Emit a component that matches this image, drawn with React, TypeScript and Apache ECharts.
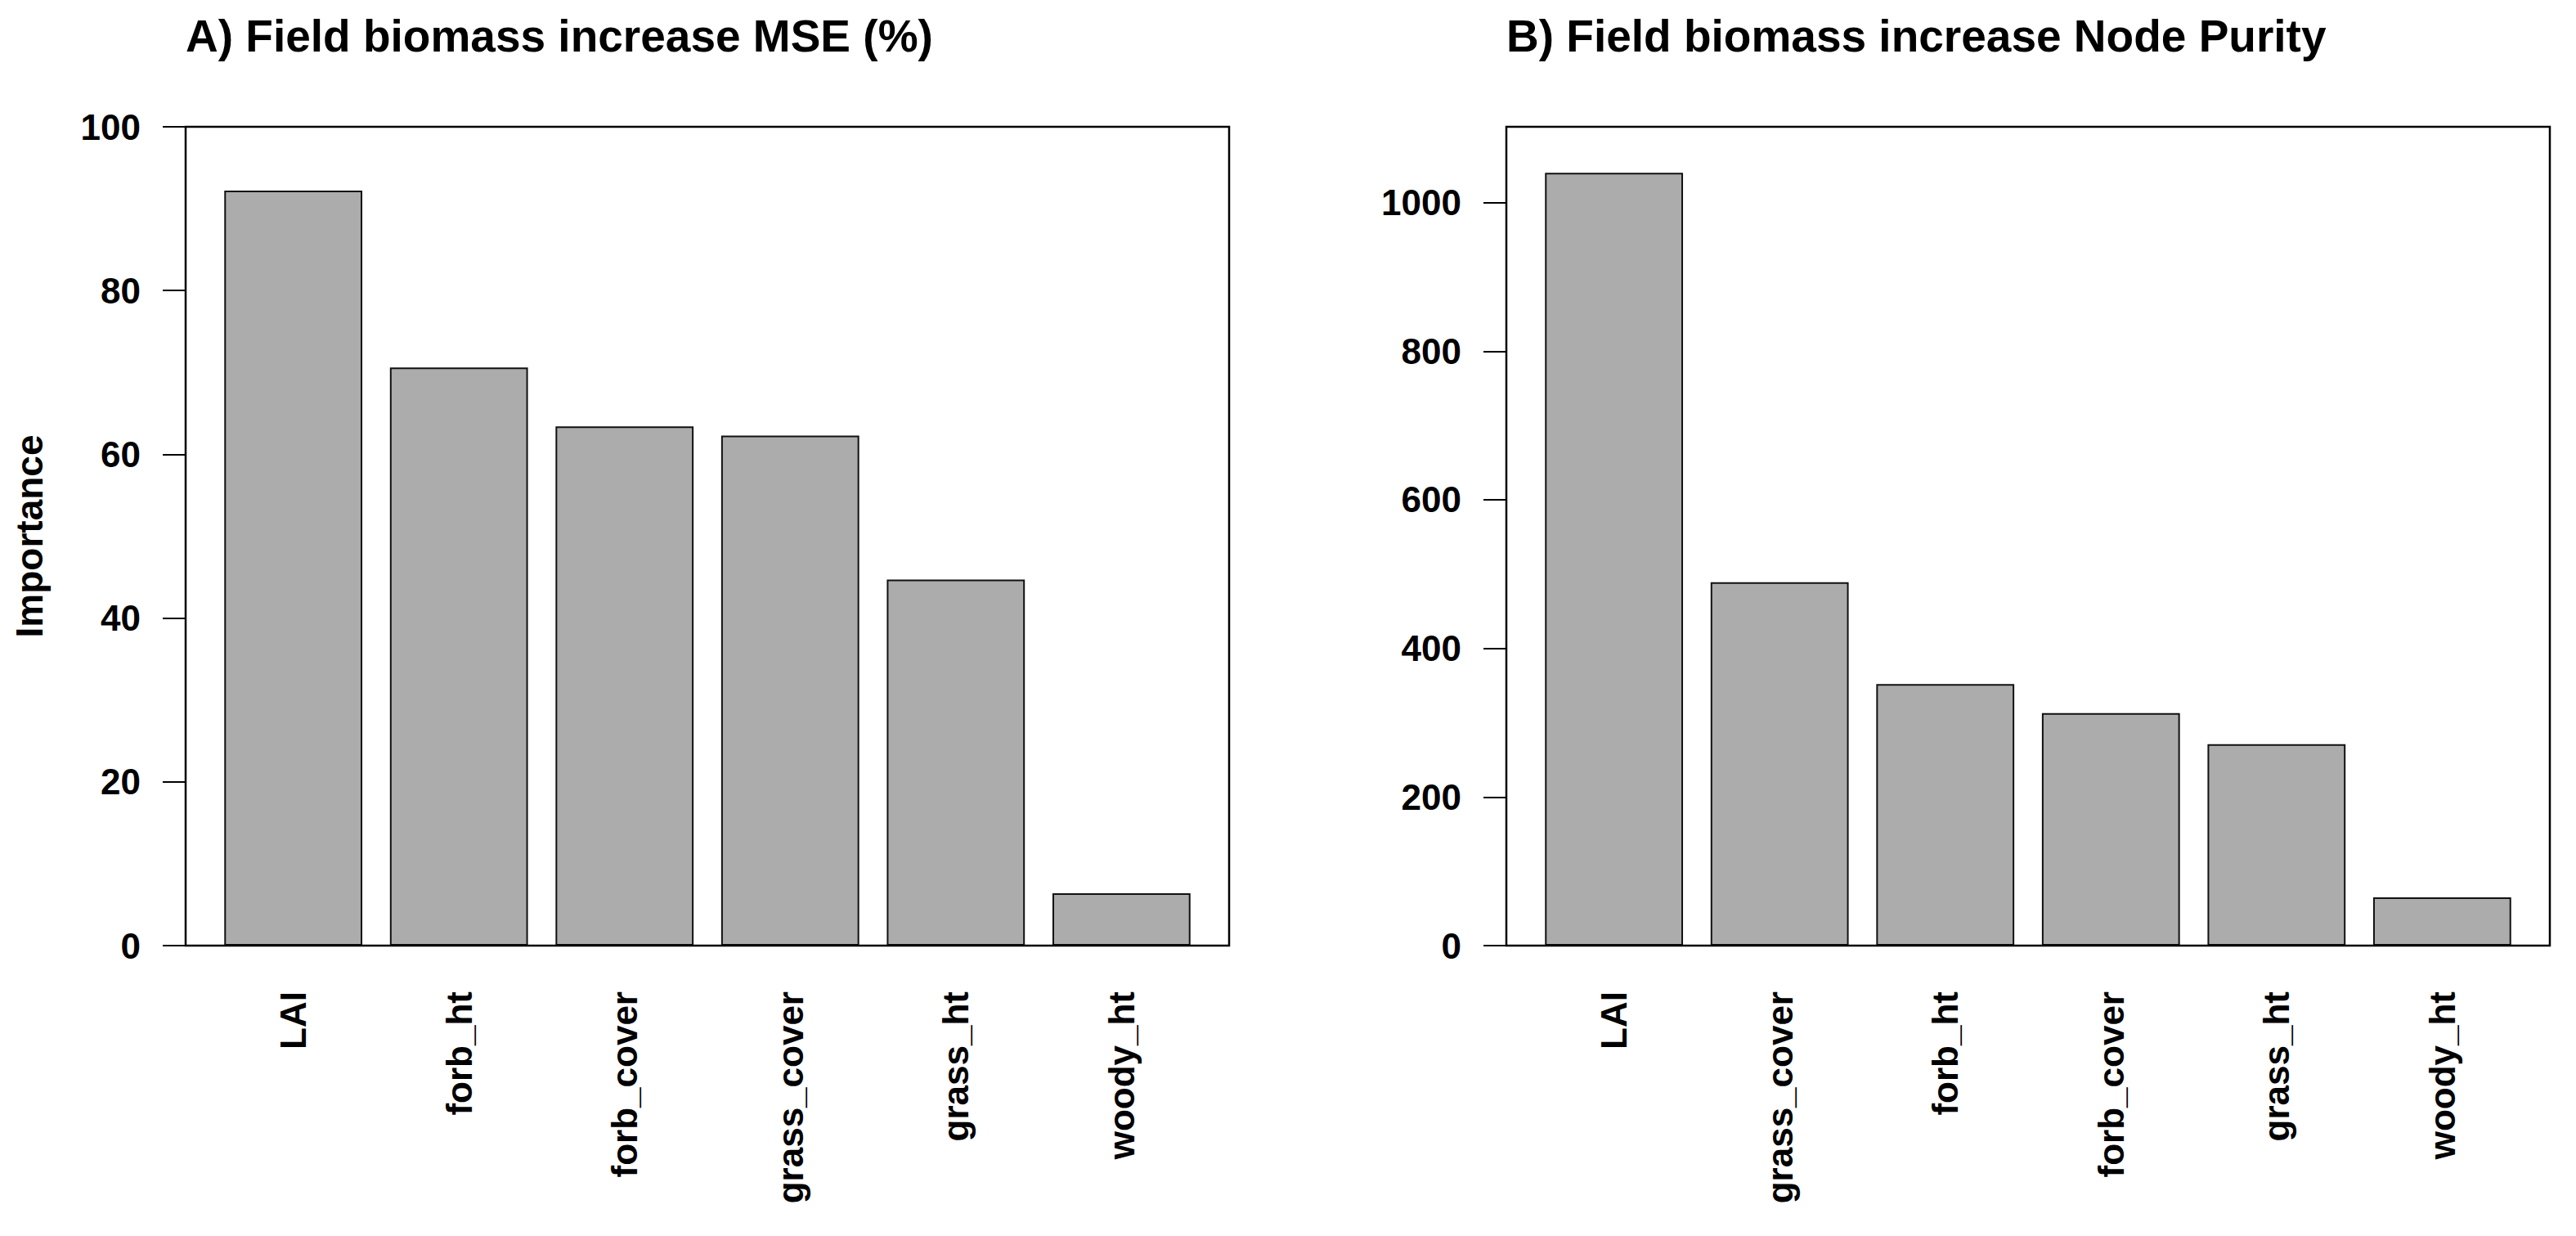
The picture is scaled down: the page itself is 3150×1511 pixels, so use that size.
import React, { useEffect, useRef } from "react";
import * as echarts from "echarts";

// ---- Data ----
const categoriesA = ["LAI", "forb_ht", "forb_cover", "grass_cover", "grass_ht", "woody_ht"];
const valuesA = [92.2, 70.6, 63.4, 62.3, 44.7, 6.4];
const ticksA = [0, 20, 40, 60, 80, 100];
const maxA = 100;

const categoriesB = ["LAI", "grass_cover", "forb_ht", "forb_cover", "grass_ht", "woody_ht"];
const valuesB = [1040, 489, 352, 313, 271, 65];
const ticksB = [0, 200, 400, 600, 800, 1000];
const maxB = 1102;

const titleA = "A) Field biomass increase MSE (%)";
const titleB = "B) Field biomass increase Node Purity";
const yAxisTitle = "Importance";

const FONT = "'Liberation Sans', Arial, Helvetica, sans-serif";
const W = 3150;
const H = 1511;

// Plot frames (R-style box)
const frameTop = 155;
const frameBottom = 1156;
const frameA = { left: 227, right: 1503 };
const frameB = { left: 1842, right: 3118 };
// R barplot: 6 bars, width 1, space 0.2, xlim extended 4% each side
const unitPx = (frameA.right - frameA.left) / 7.56;
const pad = 0.18 * unitPx; // from frame edge to first category band

function makeAxes(idx: number, cats: string[], ticks: number[], max: number) {
  const x = {
    type: "category",
    gridIndex: idx,
    data: cats,
    axisLine: { show: false },
    axisTick: { show: false },
    axisLabel: {
      interval: 0,
      rotate: 90,
      margin: 56,
      fontSize: 44,
      fontWeight: "bold",
      fontFamily: FONT,
      color: "#000",
    },
  };
  const y = {
    type: "value",
    gridIndex: idx,
    min: 0,
    max: max,
    offset: pad,
    axisLine: { show: false },
    splitLine: { show: false },
    axisTick: {
      show: true,
      length: 28,
      customValues: ticks,
      lineStyle: { color: "#000", width: 2 },
    },
    axisLabel: {
      customValues: ticks,
      formatter: (v: number) => String(v),
      margin: 55,
      fontSize: 44,
      fontWeight: "bold",
      fontFamily: FONT,
      color: "#000",
    },
  };
  return { x, y };
}

export default function App() {
  const ref = useRef<HTMLDivElement>(null);

  useEffect(() => {
    if (!ref.current) return;
    const chart = echarts.init(ref.current, null, { renderer: "svg" });
    const a = makeAxes(0, categoriesA, ticksA, maxA);
    const b = makeAxes(1, categoriesB, ticksB, maxB);
    const barStyle = {
      color: "#acacac",
      borderColor: "#111",
      borderWidth: 2,
    };
    const option = {
      animation: false,
      backgroundColor: "#fff",
      grid: [
        {
          left: frameA.left + pad,
          right: W - (frameA.right - pad),
          top: frameTop,
          bottom: H - frameBottom,
        },
        {
          left: frameB.left + pad,
          right: W - (frameB.right - pad),
          top: frameTop,
          bottom: H - frameBottom,
        },
      ],
      xAxis: [a.x, b.x],
      yAxis: [a.y, b.y],
      series: [
        {
          type: "bar",
          xAxisIndex: 0,
          yAxisIndex: 0,
          data: valuesA,
          barWidth: "83.33%",
          itemStyle: barStyle,
        },
        {
          type: "bar",
          xAxisIndex: 1,
          yAxisIndex: 1,
          data: valuesB,
          barWidth: "83.33%",
          itemStyle: barStyle,
        },
      ],
      graphic: [
        {
          type: "rect",
          z: 100,
          shape: {
            x: frameA.left,
            y: frameTop,
            width: frameA.right - frameA.left,
            height: frameBottom - frameTop,
          },
          style: { fill: "none", stroke: "#000", lineWidth: 2.5 },
        },
        {
          type: "rect",
          z: 100,
          shape: {
            x: frameB.left,
            y: frameTop,
            width: frameB.right - frameB.left,
            height: frameBottom - frameTop,
          },
          style: { fill: "none", stroke: "#000", lineWidth: 2.5 },
        },
        {
          type: "text",
          x: frameA.left,
          y: 44,
          style: {
            text: titleA,
            fontSize: 55,
            fontWeight: "bold",
            fontFamily: FONT,
            fill: "#000",
            align: "left",
            verticalAlign: "middle",
          },
        },
        {
          type: "text",
          x: frameB.left,
          y: 44,
          style: {
            text: titleB,
            fontSize: 55,
            fontWeight: "bold",
            fontFamily: FONT,
            fill: "#000",
            align: "left",
            verticalAlign: "middle",
          },
        },
        {
          type: "text",
          x: 36,
          y: (frameTop + frameBottom) / 2,
          rotation: Math.PI / 2,
          style: {
            text: yAxisTitle,
            fontSize: 46,
            fontWeight: "bold",
            fontFamily: FONT,
            fill: "#000",
            align: "center",
            verticalAlign: "middle",
          },
        },
      ],
    };
    chart.setOption(option as any);
    return () => {
      chart.dispose();
    };
  }, []);

  return (
    <div
      ref={ref}
      style={{
        position: "fixed",
        left: 0,
        top: 0,
        width: W,
        height: H,
        background: "#fff",
      }}
    />
  );
}
